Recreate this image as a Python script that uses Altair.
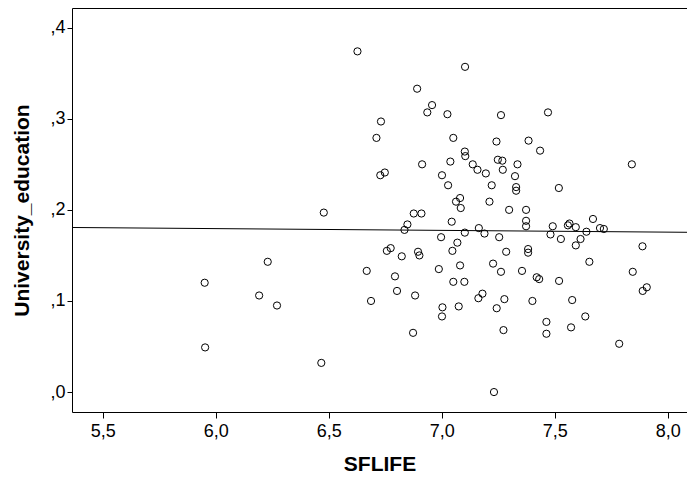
import altair as alt
import pandas as pd

sflife = [
    6.478, 6.230, 5.951, 6.668, 6.192, 6.271, 6.687, 5.953, 6.467, 6.627,
    6.731, 6.711, 6.728, 6.748, 7.103, 6.891, 6.957, 6.936, 7.025, 7.262,
    7.051, 7.242, 7.384, 7.102, 7.104, 7.248, 7.268, 6.913, 7.038, 7.137,
    7.158, 7.195, 7.270, 7.335, 7.001, 7.324, 7.028, 7.221, 7.329, 7.329,
    7.081, 7.063, 7.084, 7.211, 7.298, 7.373, 6.876, 6.910, 7.044, 6.848,
    6.835, 7.373, 7.373, 7.102, 7.164, 7.189, 6.997, 7.254, 7.069, 6.757,
    6.774, 6.823, 6.895, 6.901, 7.047, 7.285, 7.382, 7.382, 6.793, 6.987,
    7.081, 7.227, 7.262, 7.355, 6.802, 7.051, 7.100, 6.882, 7.162, 7.180,
    7.277, 7.401, 7.003, 7.001, 7.075, 7.243, 6.873, 7.273, 7.231, 7.470,
    7.435, 7.841, 7.518, 7.491, 7.565, 7.558, 7.593, 7.669, 7.640, 7.700,
    7.717, 7.481, 7.527, 7.614, 7.593, 7.888, 7.653, 7.420, 7.431, 7.519,
    7.845, 7.889, 7.907, 7.577, 7.463, 7.463, 7.572, 7.635, 7.785,
]
university = [
    0.197, 0.143, 0.120, 0.133, 0.106, 0.095, 0.100, 0.049, 0.032, 0.374,
    0.297, 0.279, 0.238, 0.241, 0.357, 0.333, 0.315, 0.307, 0.305, 0.304,
    0.279, 0.275, 0.276, 0.264, 0.259, 0.255, 0.254, 0.250, 0.253, 0.250,
    0.244, 0.240, 0.244, 0.250, 0.238, 0.237, 0.227, 0.227, 0.225, 0.221,
    0.213, 0.209, 0.202, 0.209, 0.200, 0.200, 0.196, 0.196, 0.187, 0.184,
    0.178, 0.188, 0.182, 0.175, 0.180, 0.174, 0.170, 0.170, 0.164, 0.155,
    0.158, 0.149, 0.154, 0.150, 0.155, 0.154, 0.157, 0.153, 0.127, 0.135,
    0.139, 0.141, 0.132, 0.133, 0.111, 0.121, 0.121, 0.106, 0.103, 0.108,
    0.102, 0.100, 0.093, 0.083, 0.094, 0.092, 0.065, 0.068, 0.000, 0.307,
    0.265, 0.250, 0.224, 0.182, 0.185, 0.183, 0.181, 0.190, 0.176, 0.180,
    0.179, 0.173, 0.168, 0.168, 0.161, 0.160, 0.143, 0.126, 0.124, 0.122,
    0.132, 0.111, 0.115, 0.101, 0.077, 0.064, 0.071, 0.083, 0.053,
]

x_ticks = [5.5, 6.0, 6.5, 7.0, 7.5, 8.0]
y_ticks = [0.0, 0.1, 0.2, 0.3, 0.4]
x_domain = [5.364, 8.085]
y_domain = [-0.0219, 0.4216]

df = pd.DataFrame({"SFLIFE": sflife, "University_education": university})

FONT = "Liberation Sans"

x_enc = alt.X(
    "SFLIFE:Q",
    scale=alt.Scale(domain=x_domain, nice=False, zero=False),
    axis=alt.Axis(
        values=x_ticks,
        labelExpr="replace(format(datum.value, '.1f'), '.', ',')",
        title="SFLIFE",
        grid=False,
        domain=False,
        tickColor="black",
        tickSize=6,
        labelFont=FONT,
        labelFontSize=18,
        labelColor="black",
        labelPadding=4,
        titleFont=FONT,
        titleFontSize=21,
        titleFontWeight="bold",
        titleColor="black",
        titlePadding=13,
    ),
)
y_enc = alt.Y(
    "University_education:Q",
    scale=alt.Scale(domain=y_domain, nice=False, zero=False),
    axis=alt.Axis(
        values=y_ticks,
        labelExpr="replace(format(datum.value, '.1f'), '0.', ',')",
        title="University_education",
        grid=False,
        domain=False,
        tickColor="black",
        tickSize=5,
        labelFont=FONT,
        labelFontSize=18,
        labelColor="black",
        labelPadding=2,
        titleFont=FONT,
        titleFontSize=21,
        titleFontWeight="bold",
        titleColor="black",
        titleAngle=270,
        titleBaseline="alphabetic",
        titleX=-44,
        titleY=202,
        titleAlign="center",
    ),
)

points = alt.Chart(df).mark_point(
    shape="circle", filled=False, color="black", size=52, strokeWidth=1, opacity=1
).encode(x=x_enc, y=y_enc)

fit = alt.Chart(df).transform_regression(
    "SFLIFE", "University_education", extent=x_domain
).mark_line(color="black", strokeWidth=1).encode(
    x="SFLIFE:Q", y="University_education:Q"
)

chart = (
    alt.layer(points, fit)
    .properties(
        width=615,
        height=404,
        autosize=alt.AutoSizeParams(type="none"),
        padding={"left": 64, "top": 0, "right": 0, "bottom": 63},
        background="white",
    )
    .configure_view(stroke="black", strokeWidth=1)
)

chart.save("out.html", embed_options={"renderer": "svg", "actions": False})
